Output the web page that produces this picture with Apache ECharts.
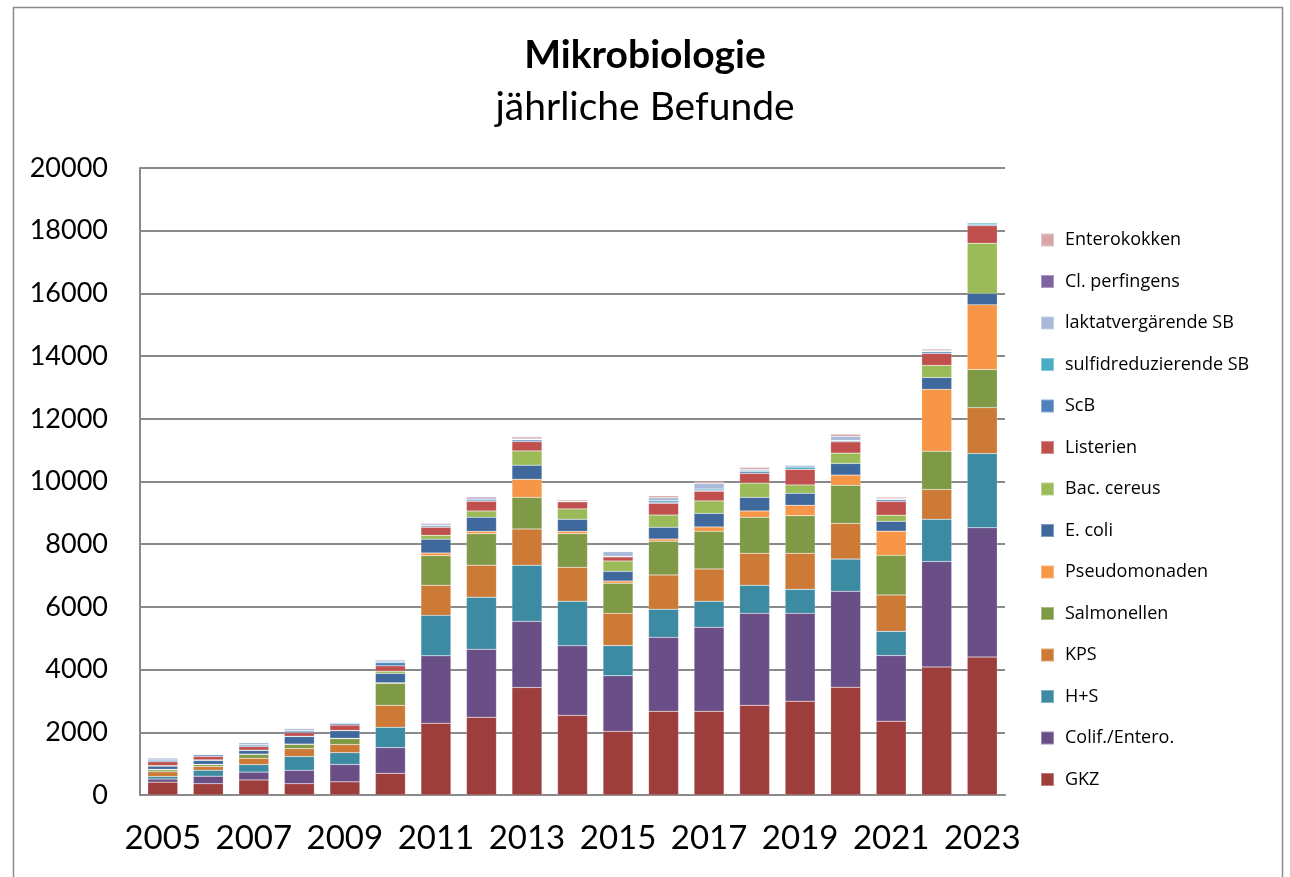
<!DOCTYPE html>
<html>
<head>
<meta charset="utf-8">
<script src="https://cdn.jsdelivr.net/npm/echarts@6/dist/echarts.min.js"></script>
<style>
  html, body { margin: 0; padding: 0; background: #fff; }
  #chart { width: 1290px; height: 877px; }
</style>
</head>
<body>
<div id="chart"></div>
<script>
// Jahre (Kategorien)
const years = ['2005','2006','2007','2008','2009','2010','2011','2012','2013','2014',
               '2015','2016','2017','2018','2019','2020','2021','2022','2023'];

// Befunde je Parameter und Jahr (gestapelt, von unten nach oben)
const gkz          = [410, 360, 480, 360, 420, 690, 2290, 2480, 3430, 2540, 2030, 2670, 2670, 2860, 2990, 3440, 2355, 4085, 4400];
const colif        = [100, 240, 250, 430, 555, 820, 2150, 2170, 2110, 2220, 1775, 2360, 2680, 2935, 2805, 3060, 2095, 3365, 4125];
const hs           = [80, 190, 240, 440, 375, 650, 1290, 1660, 1790, 1420, 960, 895, 830, 895, 765, 1025, 770, 1345, 2365];
const kps          = [150, 120, 200, 250, 260, 700, 960, 1020, 1155, 1085, 1030, 1095, 1030, 1020, 1150, 1135, 1160, 950, 1465];
const salmonellen  = [60, 60, 125, 135, 190, 700, 945, 1005, 1010, 1070, 960, 1075, 1200, 1150, 1200, 1220, 1265, 1220, 1220];
const pseudomonaden= [20, 10, 10, 10, 10, 20, 85, 75, 575, 75, 70, 70, 140, 200, 330, 325, 770, 1975, 2060];
const ecoli        = [100, 120, 115, 240, 240, 300, 440, 450, 450, 385, 310, 375, 435, 435, 385, 370, 315, 375, 365];
const bacCereus    = [20, 20, 10, 10, 10, 70, 125, 200, 455, 330, 330, 390, 395, 455, 265, 330, 195, 390, 1600];
const listerien    = [120, 110, 110, 115, 170, 170, 255, 310, 295, 230, 130, 375, 310, 310, 500, 360, 440, 380, 560];
const scb          = [50, 50, 50, 50, 50, 100, 40, 40, 55, 0, 20, 35, 30, 50, 0, 30, 50, 50, 30];
const sulfid       = [10, 10, 20, 20, 20, 30, 20, 30, 15, 0, 0, 50, 40, 30, 70, 20, 20, 20, 60];
const laktat       = [60, 20, 60, 60, 20, 60, 20, 10, 15, 20, 150, 95, 180, 50, 60, 125, 20, 20, 0];
const clPerf       = [10, 0, 10, 0, 0, 0, 40, 50, 30, 0, 0, 0, 0, 0, 0, 0, 0, 0, 0];
const enterokokken = [0, 0, 0, 10, 0, 0, 0, 0, 45, 40, 0, 60, 60, 60, 0, 70, 45, 50, 0];

// Achsenteilung
const yTicks = { min: 0, max: 20000, interval: 2000 };

const seriesDefs = [
  { name: 'GKZ',                   data: gkz,           color: '#9D3E3C' },
  { name: 'Colif./Entero.',        data: colif,         color: '#6A4F87' },
  { name: 'H+S',                   data: hs,            color: '#3C8BA3' },
  { name: 'KPS',                   data: kps,           color: '#CC7A36' },
  { name: 'Salmonellen',           data: salmonellen,   color: '#7F9A47' },
  { name: 'Pseudomonaden',         data: pseudomonaden, color: '#F79646' },
  { name: 'E. coli',               data: ecoli,         color: '#3F699D' },
  { name: 'Bac. cereus',           data: bacCereus,     color: '#9BBB59' },
  { name: 'Listerien',             data: listerien,     color: '#C0504D' },
  { name: 'ScB',                   data: scb,           color: '#4F81BD' },
  { name: 'sulfidreduzierende SB', data: sulfid,        color: '#4BACC6' },
  { name: 'laktatvergärende SB',   data: laktat,        color: '#A9B9D9' },
  { name: 'Cl. perfingens',        data: clPerf,        color: '#8064A2' },
  { name: 'Enterokokken',          data: enterokokken,  color: '#D9A7A7' }
];

const font = 'Lato, "Open Sans", sans-serif';
const chart = echarts.init(document.getElementById('chart'), null, { renderer: 'canvas' });

chart.setOption({
  backgroundColor: '#ffffff',
  animation: false,
  title: {
    text: 'Mikrobiologie',
    subtext: 'jährliche Befunde',
    left: 'center',
    top: 31,
    itemGap: 13,
    textStyle: { fontFamily: font, fontSize: 39, fontWeight: 'bold', color: '#000' },
    subtextStyle: { fontFamily: font, fontSize: 39, fontWeight: 'normal', color: '#000' }
  },
  graphic: [{
    type: 'rect',
    shape: { x: 13.5, y: 7.5, width: 1269, height: 900 },
    style: { fill: 'none', stroke: '#8a8a8a', lineWidth: 1.5 },
    silent: true
  }],
  legend: {
    orient: 'vertical',
    left: 1035,
    top: 226,
    itemWidth: 13,
    itemHeight: 13,
    itemGap: 23.5,
    icon: 'rect',
    data: seriesDefs.map(s => s.name).reverse(),
    textStyle: { fontFamily: '"Open Sans", sans-serif', fontSize: 18, color: '#000', padding: [0, 0, 0, 6] }
  },
  grid: { left: 140, right: 285, top: 168, bottom: 82 },
  xAxis: {
    type: 'category',
    data: years,
    axisLine: { lineStyle: { color: '#8a8a8a', width: 2 } },
    axisTick: { show: false },
    axisLabel: { interval: 1, fontFamily: font, fontSize: 33, color: '#000', margin: 27 }
  },
  yAxis: {
    type: 'value',
    min: yTicks.min,
    max: yTicks.max,
    interval: yTicks.interval,
    axisLine: { show: true, lineStyle: { color: '#8a8a8a', width: 2 } },
    axisTick: { show: false },
    axisLabel: { fontFamily: font, fontSize: 27, color: '#000', margin: 32, formatter: v => String(v) },
    splitLine: { lineStyle: { color: '#8a8a8a', width: 2 } }
  },
  series: seriesDefs.map(s => ({
    name: s.name,
    type: 'bar',
    stack: 'total',
    data: s.data,
    barWidth: 30,
    itemStyle: { color: s.color, borderColor: 'rgba(255,255,255,0.35)', borderWidth: 0.5 }
  }))
});
</script>
</body>
</html>
